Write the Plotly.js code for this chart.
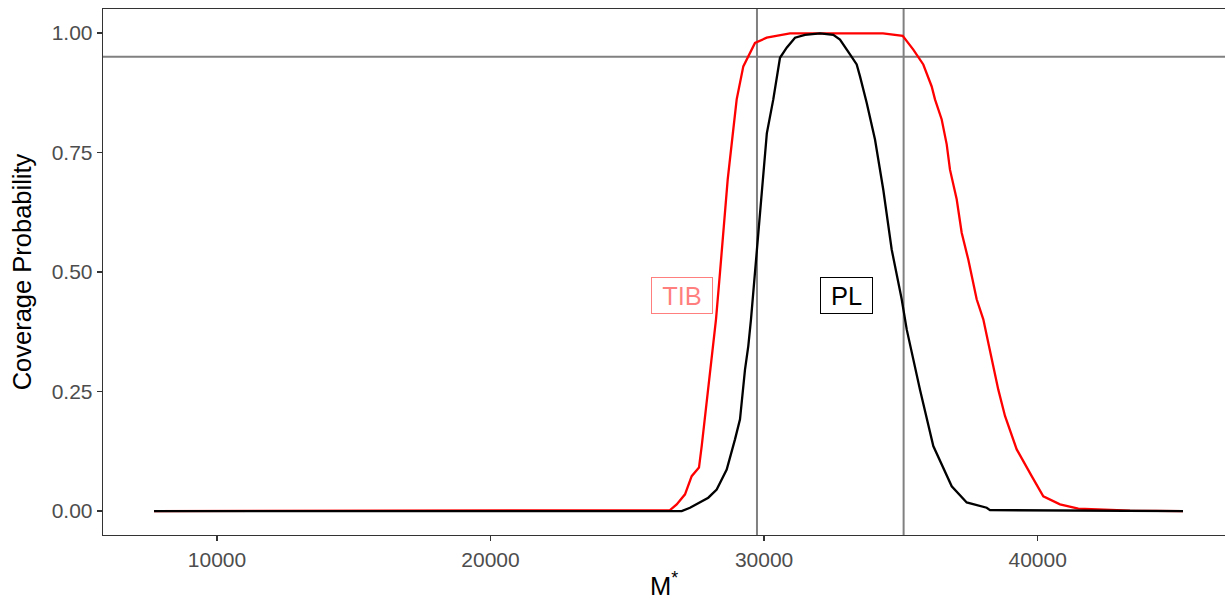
<!DOCTYPE html>
<html>
<head>
<meta charset="utf-8">
<script src="https://cdn.plot.ly/plotly-3.0.1.min.js"></script>
<style>html,body{margin:0;padding:0;background:#fff;}#chart{width:1225px;height:600px;}</style>
</head>
<body>
<div id="chart"></div>
<script>
// TIB coverage curve
const tibX = [7700, 26560, 26805, 27109, 27353, 27620, 27719, 27902, 28085, 28242, 28388, 28669, 28874, 28998, 29240, 29364, 29667, 30095, 30947, 34346, 34712, 35066, 35454, 35819, 36126, 36247, 36492, 36675, 36795, 37040, 37223, 37464, 37771, 38013, 38195, 38561, 38806, 39234, 39782, 40206, 40816, 41485, 43375, 45312];
const tibY = [0, 0.002, 0.014, 0.035, 0.073, 0.091, 0.136, 0.227, 0.331, 0.401, 0.499, 0.693, 0.798, 0.861, 0.930, 0.944, 0.979, 0.990, 0.999, 0.999, 0.996, 0.994, 0.965, 0.934, 0.888, 0.861, 0.819, 0.767, 0.714, 0.652, 0.582, 0.526, 0.443, 0.401, 0.352, 0.254, 0.199, 0.129, 0.073, 0.031, 0.014, 0.005, 0.001, 0];
// PL coverage curve
const plX = [7700, 26988, 27291, 27657, 27960, 28267, 28633, 28936, 29119, 29302, 29422, 29521, 29788, 30100, 30336, 30581, 30826, 31130, 31495, 32043, 32530, 32774, 33140, 33385, 33506, 33750, 34054, 34357, 34664, 35030, 35213, 35699, 36185, 36858, 37406, 38137, 38258, 45312];
const plY = [0, 0, 0.007, 0.019, 0.028, 0.045, 0.087, 0.150, 0.192, 0.296, 0.345, 0.401, 0.589, 0.790, 0.861, 0.948, 0.969, 0.990, 0.996, 0.999, 0.996, 0.986, 0.955, 0.934, 0.909, 0.854, 0.777, 0.672, 0.547, 0.443, 0.380, 0.254, 0.136, 0.052, 0.018, 0.007, 0.002, 0];
// reference lines
const vLines = [29740, 35100];
const hLine = 0.95;
// labels
const labelText = ["TIB", "PL"];
const labelX = [27000, 33000];
const labelY = [0.45, 0.45];
const labelColor = ["rgba(255,0,0,0.5)", "#000000"];
const labelWidth = [56, 47];
// axis ticks
const xTicks = [10000, 20000, 30000, 40000];
const yTicks = [0, 0.25, 0.5, 0.75, 1];
const yTickText = ["0.00", "0.25", "0.50", "0.75", "1.00"];

const FONT = "Liberation Sans, Arial, Helvetica, sans-serif";

const traces = [
  {x: tibX, y: tibY, type: "scatter", mode: "lines", name: "TIB",
   line: {color: "#FF0000", width: 2.3}, hoverinfo: "skip"},
  {x: plX, y: plY, type: "scatter", mode: "lines", name: "PL",
   line: {color: "#000000", width: 2.3}, hoverinfo: "skip"}
];

const shapes = [];
vLines.forEach(v => shapes.push({type: "line", xref: "x", yref: "paper", x0: v, x1: v, y0: 0, y1: 1,
  line: {color: "#808080", width: 2}, layer: "below"}));
shapes.push({type: "line", xref: "paper", yref: "y", x0: 0, x1: 1, y0: hLine, y1: hLine,
  line: {color: "#808080", width: 2}, layer: "below"});

const annotations = labelText.map((t, i) => ({
  x: labelX[i], y: labelY[i], xref: "x", yref: "y", text: t, showarrow: false,
  font: {family: FONT, size: 25.5, color: labelColor[i]},
  bordercolor: labelColor[i], borderwidth: 1, borderpad: 2, bgcolor: "#ffffff",
  width: labelWidth[i], height: 31, xanchor: "center", yanchor: "middle"
}));

const layout = {
  width: 1225, height: 600,
  margin: {l: 103, r: 0, t: 9, b: 65, pad: 0},
  paper_bgcolor: "#ffffff", plot_bgcolor: "#ffffff",
  showlegend: false,
  font: {family: FONT},
  xaxis: {
    range: [5834, 46848], tickmode: "array", tickvals: xTicks, ticktext: xTicks.map(String),
    showgrid: false, zeroline: false,
    showline: true, mirror: true, linecolor: "#333333", linewidth: 1.3,
    ticks: "outside", ticklen: 5, tickwidth: 1.3, tickcolor: "#333333",
    tickfont: {family: FONT, size: 21, color: "#4D4D4D"},
    title: {text: "M<sup>*</sup>", font: {family: FONT, size: 25.5, color: "#000000"}, standoff: 12}
  },
  yaxis: {
    range: [-0.05, 1.05], tickmode: "array", tickvals: yTicks, ticktext: yTickText,
    showgrid: false, zeroline: false,
    showline: true, mirror: false, linecolor: "#333333", linewidth: 1.3,
    ticks: "outside", ticklen: 5, tickwidth: 1.3, tickcolor: "#333333",
    tickfont: {family: FONT, size: 21, color: "#4D4D4D"},
    title: {text: "Coverage Probability", font: {family: FONT, size: 25.5, color: "#000000"}, standoff: 12}
  },
  shapes: shapes,
  annotations: annotations
};

Plotly.newPlot("chart", traces, layout, {staticPlot: true, displayModeBar: false});
</script>
</body>
</html>
